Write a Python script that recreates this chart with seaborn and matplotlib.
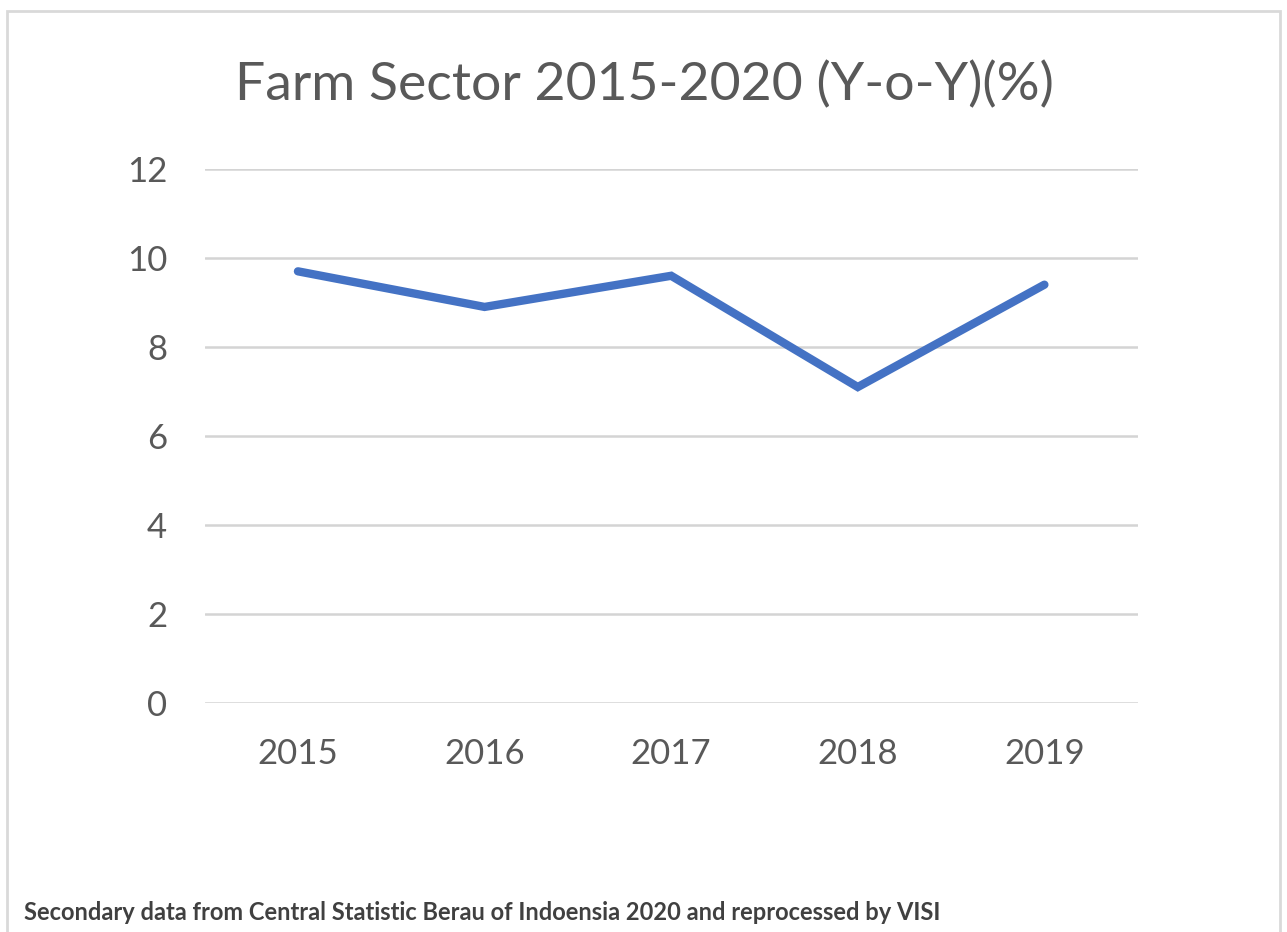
import numpy as np
import pandas as pd
import matplotlib.pyplot as plt
from matplotlib.patches import Rectangle
import seaborn as sns

years = ["2015", "2016", "2017", "2018", "2019"]
growth = [9.7, 8.9, 9.6, 7.1, 9.4]

df = pd.DataFrame({"year": years, "growth": growth})

sns.set_theme(style="white")
plt.rcParams['font.family'] = ['Lato', 'DejaVu Sans']

fig = plt.figure(figsize=(12.87, 9.32), dpi=100)
ax = fig.add_axes([0.159, 0.2457, 0.725, 0.573])

sns.lineplot(data=df, x="year", y="growth", ax=ax, color="#4472C4", linewidth=6,
             solid_capstyle="round", solid_joinstyle="miter")

ax.set_xlim(-0.5, 4.5)
ax.set_ylim(0, 12)
ax.set_yticks(np.arange(0, 13, 2))
ax.yaxis.grid(True, color="#D4D4D4", linewidth=1.8)
ax.set_axisbelow(True)
sns.despine(ax=ax, left=True, bottom=True)
ax.tick_params(axis="both", length=0, labelsize=25, colors="#595959")
ax.tick_params(axis="y", pad=27)
ax.tick_params(axis="x", pad=25)
ax.set_xlabel("")
ax.set_ylabel("")

fig.text(0.501, 0.909, "Farm Sector 2015-2020 (Y-o-Y)(%)", ha="center", va="center",
         fontsize=38.5, color="#595959")
fig.text(0.019, 0.021, "Secondary data from Central Statistic Berau of Indoensia 2020 and reprocessed by VISI",
         ha="left", va="center", fontsize=17, fontweight="bold", color="#404040")

fig.patches.append(Rectangle((7 / 1287, -0.01), 1273 / 1287, 1 - 11 / 932 + 0.01,
                             transform=fig.transFigure, fill=False,
                             edgecolor="#D9D9D9", linewidth=2))

fig.savefig("out.png", dpi=100)
